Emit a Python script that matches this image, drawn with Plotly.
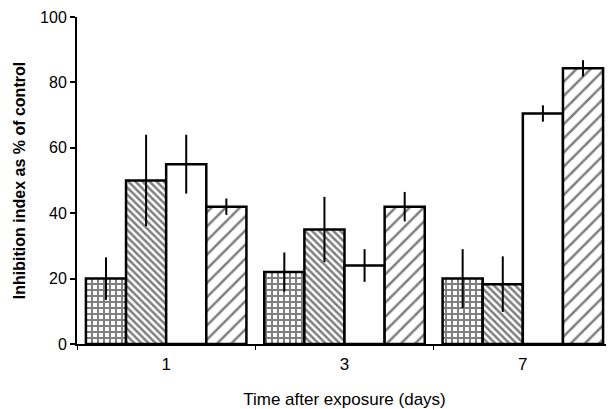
import plotly.graph_objects as go

days = ["1", "3", "7"]
series_a = [20, 22, 20]
series_a_err = [6.5, 6, 9]
series_b = [50, 35, 18.3]
series_b_err = [14, 10, 8.5]
series_c = [55, 24, 70.5]
series_c_err = [9, 5, 2.5]
series_d = [42, 42, 84.3]
series_d_err = [2.5, 4.5, 2.5]

patterns = [
    dict(shape="+", size=6, solidity=0.55, fgcolor="black", bgcolor="white"),
    dict(shape="\\", size=5, solidity=0.5, fgcolor="black", bgcolor="white"),
    dict(shape="", fgcolor="black", bgcolor="white"),
    dict(shape="/", size=10, solidity=0.25, fgcolor="black", bgcolor="white"),
]

fig = go.Figure()
for vals, errs, pat in zip(
    [series_a, series_b, series_c, series_d],
    [series_a_err, series_b_err, series_c_err, series_d_err],
    patterns,
):
    fig.add_trace(go.Bar(
        x=days, y=vals,
        marker=dict(color="white", line=dict(color="black", width=2.5), pattern=pat),
        error_y=dict(type="data", array=errs, visible=True, color="black",
                     thickness=2, width=0),
        showlegend=False,
    ))

fig.update_layout(
    width=606, height=401,
    margin=dict(l=69, r=2, t=9, b=65),
    paper_bgcolor="white", plot_bgcolor="white",
    barmode="group", bargap=0.1, bargroupgap=0,
    font=dict(family="Liberation Sans, Arial, sans-serif", color="black", size=16),
)
fig.update_xaxes(
    type="category", range=[-0.5, 2.5], automargin=False,
    showline=True, linecolor="black", linewidth=2,
    ticks="outside", tickson="boundaries", ticklen=4, tickcolor="black",
    tickfont=dict(size=17), showgrid=False, ticklabelstandoff=4,
    title=dict(text="Time after exposure (days)", font=dict(size=17), standoff=21),
)
fig.update_yaxes(
    range=[0, 100], tickvals=[0, 20, 40, 60, 80, 100], automargin=False,
    showline=True, linecolor="black", linewidth=2,
    ticks="outside", ticklen=5, tickcolor="black", tickwidth=1.5,
    tickfont=dict(size=16), showgrid=False, zeroline=False,
    title=dict(text="<b>Inhibition index as % of control</b>", font=dict(size=16), standoff=10),
)

fig.write_html("out.html")
